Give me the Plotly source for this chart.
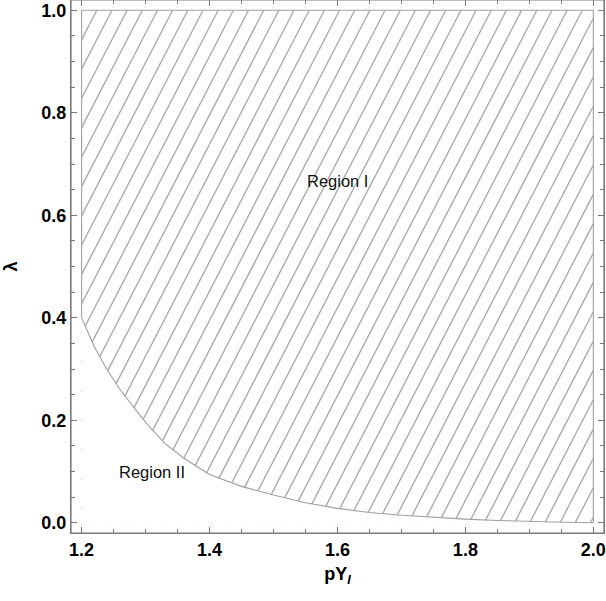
import plotly.graph_objects as go

# Boundary curve between Region I and Region II
py_vals = [1.20, 1.22, 1.24, 1.26, 1.28, 1.30, 1.33, 1.36, 1.40, 1.45, 1.50,
           1.55, 1.60, 1.65, 1.70, 1.75, 1.80, 1.85, 1.90, 1.95, 2.00]
lam_vals = [0.400, 0.343, 0.298, 0.260, 0.227, 0.196, 0.155, 0.126, 0.094, 0.071, 0.054,
            0.039, 0.028, 0.020, 0.0145, 0.0105, 0.007, 0.0045, 0.0025, 0.001, 0.0]
LAM_MAX = 1.0
region_labels = ["Region I", "Region II"]
region_pos = [(1.60, 0.667), (1.31, 0.10)]
x_ticks = [1.2, 1.4, 1.6, 1.8, 2.0]
y_ticks = [0.0, 0.2, 0.4, 0.6, 0.8, 1.0]

GRAY = "#7a7a7a"
HATCH = "#ababab"

xmin, xmax = py_vals[0], py_vals[-1]

# hatch lines (decoration), through the top-left corner, clipped to the box
slope = 2.414
dx = 0.02372
hx, hy = [], []
k = -60
while True:
    x0 = xmin + k * dx
    if x0 > xmax + 1:
        break
    y_lo = max(0.0, LAM_MAX + slope * (xmin - x0))
    y_hi = min(LAM_MAX, LAM_MAX + slope * (xmax - x0))
    if y_hi > y_lo:
        hx += [x0 + (y_lo - LAM_MAX) / slope, x0 + (y_hi - LAM_MAX) / slope, None]
        hy += [y_lo, y_hi, None]
    k += 1

fig = go.Figure()
fig.add_trace(go.Scatter(x=hx, y=hy, mode="lines",
                         line=dict(color=HATCH, width=1.4), hoverinfo="skip",
                         showlegend=False))
# white cover for Region II
fig.add_trace(go.Scatter(x=py_vals, y=lam_vals, mode="lines", fill="tozeroy",
                         fillcolor="white", line=dict(color="rgba(0,0,0,0)", width=0),
                         showlegend=False, hoverinfo="skip"))
# boundary of Region I
bx = [xmin] + py_vals + [xmax, xmin, xmin]
by = [LAM_MAX] + lam_vals + [LAM_MAX, LAM_MAX, lam_vals[0]]
fig.add_trace(go.Scatter(x=bx, y=by, mode="lines",
                         line=dict(color="#a0a0a0", width=1.1), showlegend=False))

for txt, (tx, ty) in zip(region_labels, region_pos):
    fig.add_annotation(x=tx, y=ty, text=txt, showarrow=False,
                       font=dict(family="Arial, Liberation Sans", size=16.5, color="#111"))

# frame
fig.add_shape(type="rect", xref="paper", yref="paper", x0=0, x1=1, y0=0, y1=1,
              line=dict(color=GRAY, width=1.2), fillcolor="rgba(0,0,0,0)", layer="above")

axis_common = dict(
    showline=True, linecolor=GRAY, linewidth=1.2, mirror="ticks",
    ticks="inside", ticklen=6, tickcolor=GRAY, tickwidth=1,
    showgrid=False, zeroline=False, automargin=False,
    ticklabeloverflow="allow",
    tickfont=dict(family="Arial, Liberation Sans", size=18, color="black", weight="bold"),
)

fig.update_layout(
    width=606, height=601,
    margin=dict(l=71, r=2, t=0, b=68),
    plot_bgcolor="white", paper_bgcolor="white",
    xaxis=dict(range=[1.1834, 2.0167], tickvals=x_ticks,
               ticktext=[f"{v:.1f}" for v in x_ticks],
               minor=dict(dtick=0.05, tick0=1.2, ticks="inside", ticklen=3.5,
                          tickcolor=GRAY, showgrid=False),
               title=dict(text="<b>pY<sub><i>I</i></sub></b>", standoff=8,
                          font=dict(family="Arial, Liberation Sans", size=18, color="black")),
               **axis_common),
    yaxis=dict(range=[-0.02, 1.02], tickvals=y_ticks,
               ticktext=[f"{v:.1f}" for v in y_ticks],
               minor=dict(dtick=0.05, tick0=0, ticks="inside", ticklen=3.5,
                          tickcolor=GRAY, showgrid=False),
               title=dict(text="<b>λ</b>", standoff=18,
                          font=dict(family="Arial, Liberation Sans", size=18, color="black")),
               **axis_common),
)

fig.write_html("out.html", config={"displayModeBar": False},
               post_script="document.body.style.margin='0';document.body.style.overflow='hidden';")
